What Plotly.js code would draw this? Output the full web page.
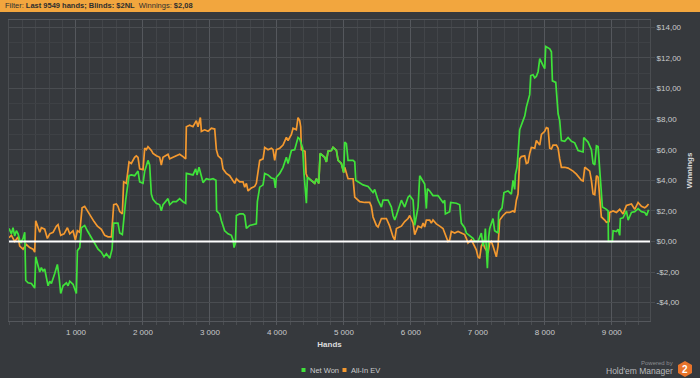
<!DOCTYPE html>
<html>
<head>
<meta charset="utf-8">
<script src="https://cdn.plot.ly/plotly-3.0.1.min.js"></script>
<style>
html,body{margin:0;padding:0;background:#36393d;}
#chart{width:700px;height:378px;}
</style>
</head>
<body>
<div id="chart"></div>
<script>
// ---- Data ----
const netWonHands = [0,36,60,85,110,135,160,175,210,235,250,284,334,384,399,434,459,483,508,533,558,583,608,633,683,722,747,772,807,857,882,907,956,981,1006,1021,1056,1081,1130,1170,1220,1270,1330,1379,1419,1454,1504,1539,1563,1627,1653,1692,1712,1742,1792,1826,1876,1926,1951,2001,2026,2075,2100,2125,2150,2200,2250,2274,2299,2374,2399,2449,2498,2548,2598,2638,2648,2697,2747,2787,2807,2837,2872,2897,2946,2996,3046,3090,3100,3146,3171,3220,3270,3320,3345,3360,3380,3395,3444,3494,3519,3544,3594,3643,3693,3708,3743,3793,3818,3867,3917,3957,3977,3992,4042,4091,4141,4166,4216,4265,4315,4340,4385,4405,4440,4455,4515,4564,4589,4625,4645,4714,4739,4763,4813,4838,4888,4913,4962,4997,5012,5037,5062,5137,5162,5177,5211,5286,5361,5410,5435,5460,5510,5560,5585,5659,5709,5734,5759,5784,5834,5858,5908,5958,5983,6033,6057,6107,6132,6182,6206,6231,6246,6281,6330,6405,6480,6505,6515,6579,6594,6679,6729,6753,6803,6828,6878,6928,6953,7002,7052,7077,7102,7112,7127,7142,7162,7177,7226,7251,7301,7311,7361,7390,7450,7500,7525,7550,7560,7585,7600,7624,7674,7700,7725,7750,7774,7789,7824,7849,7874,7899,7924,7974,7998,8013,8073,8098,8113,8163,8198,8222,8247,8297,8347,8397,8446,8496,8546,8571,8581,8645,8695,8720,8745,8770,8795,8820,8844,8859,8919,8944,8949,9009,9019,9069,9093,9118,9128,9168,9218,9243,9293,9342,9392,9442,9491,9520,9549];
const netWonValues = [0.85,0.5,0.9,0.35,0.7,0.5,0.1,-0.1,0.2,0.6,-2.55,-2.7,-2.75,-3.05,-1.0,-1.6,-2.0,-1.7,-1.95,-1.8,-2.3,-2.9,-2.6,-2.75,-2.1,-1.5,-2.3,-3.4,-2.9,-2.7,-2.9,-2.6,-2.8,-3.1,-3.4,-0.6,-0.4,0.9,1.05,0.7,0.3,0.0,-0.5,-0.7,-1.0,-0.8,-1.1,-0.5,1.2,1.2,0.55,0.45,1.6,2.7,4.3,4.35,4.3,4.6,3.9,3.8,4.6,5.3,5.0,3.1,2.75,2.5,2.4,2.0,2.4,2.8,2.4,2.6,2.6,2.8,2.6,2.5,4.45,4.4,4.35,4.75,4.35,4.85,4.2,3.85,4.1,4.05,4.1,4.0,2.0,1.8,1.35,0.7,0.5,0.4,0.1,-0.4,-0.1,1.7,1.8,1.8,1.7,0.85,1.05,1.1,1.15,2.6,3.55,3.7,4.45,4.35,4.15,4.1,3.5,4.2,4.45,4.85,5.5,5.1,5.95,6.0,6.8,6.7,6.1,4.4,2.5,4.2,4.0,3.8,4.1,3.8,5.75,5.5,5.2,5.9,5.95,6.15,5.95,5.3,5.1,4.5,6.5,6.4,5.3,5.3,5.2,4.0,3.9,3.7,3.6,3.35,3.2,3.4,2.7,2.25,2.7,2.7,2.25,1.7,1.4,1.7,2.5,2.7,2.25,2.9,3.0,2.7,1.05,2.25,4.3,3.9,3.75,2.15,3.45,3.3,3.0,3.0,2.55,2.7,1.8,1.95,2.55,2.5,2.4,1.2,0.9,0.55,0.35,0.2,0.0,0.0,0.55,-0.3,0.2,0.85,-0.5,-1.75,0.3,0.85,1.5,0.7,0.55,1.9,2.2,3.2,3.3,3.1,4.0,3.4,4.35,4.85,5.75,7.3,7.9,8.2,8.8,9.3,9.6,10.85,10.9,10.7,10.8,11.1,11.95,11.5,11.3,12.75,12.6,12.4,10.5,10.4,8.35,7.9,6.6,6.55,6.8,6.55,6.45,5.95,5.85,5.85,6.8,6.5,6.0,5.1,5.0,6.25,6.2,4.45,3.5,2.25,2.1,2.0,0.0,0.0,0.7,0.65,0.8,0.4,1.5,1.55,2.0,1.4,1.9,1.95,2.15,1.95,1.9,1.7,2.08];

const allInEvHands = [0,36,85,135,160,210,260,309,359,384,399,434,459,483,533,573,608,658,707,732,772,822,872,907,956,991,1021,1056,1091,1130,1170,1220,1270,1320,1379,1429,1479,1529,1563,1603,1627,1653,1692,1712,1752,1792,1826,1876,1901,1926,1951,2001,2026,2050,2075,2125,2150,2200,2250,2274,2299,2374,2399,2449,2498,2548,2598,2638,2648,2697,2747,2797,2822,2857,2872,2921,2971,3021,3071,3096,3121,3171,3195,3245,3295,3345,3370,3395,3444,3494,3519,3544,3569,3618,3668,3693,3718,3743,3793,3818,3867,3917,3942,3967,3992,4042,4091,4116,4141,4166,4216,4241,4290,4315,4340,4355,4365,4420,4435,4455,4515,4564,4589,4625,4645,4714,4739,4763,4813,4838,4888,4913,4962,4997,5012,5062,5137,5162,5236,5311,5385,5410,5435,5485,5510,5560,5634,5684,5734,5759,5784,5858,5908,5958,5983,6033,6057,6107,6157,6182,6206,6231,6281,6305,6330,6380,6430,6480,6505,6554,6579,6604,6654,6704,6753,6803,6828,6853,6903,6953,6977,7002,7027,7052,7077,7102,7152,7177,7201,7226,7276,7301,7326,7376,7425,7475,7525,7550,7575,7600,7624,7649,7699,7724,7749,7774,7799,7849,7874,7924,7949,7998,8023,8048,8073,8098,8123,8173,8198,8222,8247,8297,8347,8421,8471,8546,8571,8596,8670,8695,8720,8745,8770,8795,8820,8844,8894,8919,8959,8969,9019,9069,9118,9168,9218,9293,9342,9392,9442,9491,9520,9549];
const allInEvValues = [0.25,0.4,0.0,0.3,-0.3,-0.5,-0.2,-0.4,-0.5,-0.7,1.35,0.9,0.6,0.9,0.8,0.2,0.5,0.6,1.0,1.1,0.4,0.5,0.9,0.5,0.7,0.1,0.7,0.6,2.2,2.3,2.0,1.6,1.3,1.0,0.8,0.4,0.3,0.3,2.4,2.45,2.3,1.95,1.8,3.9,3.8,5.2,5.1,5.5,5.6,5.5,4.75,4.7,6.1,6.0,6.2,5.95,5.75,5.6,5.5,5.0,5.5,5.7,5.4,5.5,5.6,5.7,5.55,5.4,7.5,7.6,7.5,7.9,7.5,8.1,7.2,7.3,7.2,7.4,7.35,6.0,5.6,5.4,4.75,4.45,4.3,4.0,3.8,4.1,3.9,3.9,3.55,3.8,3.3,3.5,3.6,3.8,4.45,5.3,5.4,6.15,6.0,6.1,6.0,5.3,6.0,6.1,6.3,6.6,6.8,6.6,7.0,7.4,7.3,8.1,7.9,7.5,6.0,5.9,4.45,4.2,4.0,3.8,4.1,3.8,5.75,5.5,5.2,5.9,5.95,6.15,5.95,5.3,5.1,4.5,4.85,4.1,4.1,2.9,2.6,2.55,2.55,2.3,1.6,1.05,0.95,1.5,1.5,1.0,0.3,0.1,0.85,1.0,1.3,1.5,1.7,1.2,0.45,1.0,0.9,1.2,0.95,1.4,1.4,1.2,1.4,1.15,1.0,0.85,0.55,0.0,0.1,0.65,0.55,0.65,0.55,0.45,0.2,-0.1,0.1,-0.3,-0.55,-1.0,-1.1,-0.3,-0.1,-0.4,-0.75,-0.1,0.0,-0.3,-1.0,-0.3,1.4,1.7,1.9,1.9,2.0,1.9,2.7,3.1,5.4,5.55,5.6,5.1,5.15,5.75,6.15,6.1,6.6,6.3,7.0,7.2,7.45,7.4,6.1,6.05,6.3,6.3,6.1,5.4,4.85,4.85,4.8,4.6,4.4,4.0,3.95,4.85,4.6,4.0,3.1,3.05,4.3,4.2,3.1,1.6,1.4,1.25,1.3,1.9,2.0,1.9,2.1,1.8,2.35,2.45,2.1,2.55,2.3,2.2,2.3,2.45];

const seriesNames = ['Net Won', 'All-In EV'];
const xTickValues = [1000,2000,3000,4000,5000,6000,7000,8000,9000];
const xTickLabels = ['1 000','2 000','3 000','4 000','5 000','6 000','7 000','8 000','9 000'];
const yTickValues = [-4,-2,0,2,4,6,8,10,12,14];
const yTickLabels = ['-$4,00','-$2,00','$0,00','$2,00','$4,00','$6,00','$8,00','$10,00','$12,00','$14,00'];

// ---- Styling / geometry ----
const W = 700, H = 378;
const M = {l: 9, r: 50, t: 20, b: 57};
const plotW = W - M.l - M.r, plotH = H - M.t - M.b;
const px = x => (x - M.l) / plotW;          // pixel -> paper x
const py = y => (H - M.b - y) / plotH;      // pixel -> paper y
const GREEN = '#3fe23a', ORANGE = '#f4992f', BG = '#36393d';
const FONT = 'Liberation Sans, Arial, sans-serif';

const traces = [
  {x: allInEvHands, y: allInEvValues, name: seriesNames[1], type: 'scatter', mode: 'lines',
   line: {color: ORANGE, width: 1.7}, showlegend: false, hoverinfo: 'skip'},
  {x: netWonHands, y: netWonValues, name: seriesNames[0], type: 'scatter', mode: 'lines',
   line: {color: GREEN, width: 1.7}, showlegend: false, hoverinfo: 'skip'}
];

const hex = 'M 0 8 L 7 4 L 7 -4 L 0 -8 L -7 -4 L -7 4 Z';

const layout = {
  width: W, height: H,
  margin: M,
  paper_bgcolor: BG, plot_bgcolor: BG,
  font: {family: FONT, size: 8, color: '#c9cacc'},
  showlegend: false,
  xaxis: {
    range: [0, 9570],
    tickmode: 'array', tickvals: xTickValues, ticktext: xTickLabels,
    showgrid: true, gridcolor: '#55585d', gridwidth: 1,
    ticks: 'outside', ticklen: 3, tickcolor: '#55585d',
    minor: {tickmode: 'linear', tick0: 0, dtick: 200, showgrid: true, gridcolor: '#424549',
            ticks: 'outside', ticklen: 3, tickcolor: '#4a4d51'},
    showline: true, linecolor: '#55585d', mirror: true,
    zeroline: false,
    tickfont: {size: 8, color: '#c9cacc'},
    title: {text: '<b>Hands</b>', font: {size: 8, color: '#dcdcdc'}, standoff: 5}
  },
  yaxis: {
    side: 'right',
    range: [-5.2, 14.48],
    tickmode: 'array', tickvals: yTickValues, ticktext: yTickLabels,
    showgrid: true, gridcolor: '#4a4d51', gridwidth: 1,
    ticks: 'outside', ticklen: 4, tickcolor: '#4a4d51',
    minor: {tickmode: 'linear', tick0: 0, dtick: 1, showgrid: true, gridcolor: '#3e4145'},
    showline: true, linecolor: '#4a4d51', mirror: true,
    zeroline: false,
    tickfont: {size: 8, color: '#c9cacc'},
    title: {text: '<b>Winnings</b>', font: {size: 8, color: '#dcdcdc'}, standoff: 5}
  },
  shapes: [
    // header bar
    {type: 'rect', xref: 'paper', yref: 'paper', x0: px(0), x1: px(W), y0: py(12), y1: py(0),
     fillcolor: '#f2a63e', line: {width: 0}, layer: 'above'},
    // zero line
    {type: 'line', xref: 'paper', yref: 'y', x0: 0, x1: 1, y0: 0, y1: 0,
     line: {color: '#ffffff', width: 2}, layer: 'above'},
    // legend swatches
    {type: 'rect', xref: 'paper', yref: 'paper', xsizemode: 'pixel', ysizemode: 'pixel',
     xanchor: px(303.5), yanchor: py(370), x0: -2, x1: 2, y0: -2, y1: 2,
     fillcolor: GREEN, line: {width: 0}},
    {type: 'rect', xref: 'paper', yref: 'paper', xsizemode: 'pixel', ysizemode: 'pixel',
     xanchor: px(344.5), yanchor: py(370), x0: -2, x1: 2, y0: -2, y1: 2,
     fillcolor: ORANGE, line: {width: 0}},
    // logo hexagon
    {type: 'path', xref: 'paper', yref: 'paper', xsizemode: 'pixel', ysizemode: 'pixel',
     xanchor: px(685), yanchor: py(369), path: hex, fillcolor: '#e8742b', line: {width: 0}}
  ],
  annotations: [
    {xref: 'paper', yref: 'paper', x: px(3), y: py(6), xanchor: 'left', yanchor: 'middle', showarrow: false,
     text: 'Filter: <b>Last 9549 hands; Blinds: $2NL</b>  Winnings: <b>$2,08</b>',
     font: {size: 7.5, color: '#2e2e2e', family: FONT}},
    {xref: 'paper', yref: 'paper', x: px(307.5), y: py(370), xanchor: 'left', yanchor: 'middle', showarrow: false,
     text: seriesNames[0], font: {size: 7.5, color: '#c9cacc'}},
    {xref: 'paper', yref: 'paper', x: px(348.5), y: py(370), xanchor: 'left', yanchor: 'middle', showarrow: false,
     text: seriesNames[1], font: {size: 7.5, color: '#c9cacc'}},
    {xref: 'paper', yref: 'paper', x: px(675), y: py(363), xanchor: 'right', yanchor: 'middle', showarrow: false,
     text: 'Powered by', font: {size: 6, color: '#8c8d90'}},
    {xref: 'paper', yref: 'paper', x: px(675), y: py(371), xanchor: 'right', yanchor: 'middle', showarrow: false,
     text: "Hold'em Manager", font: {size: 8.5, color: '#b9babc'}},
    {xref: 'paper', yref: 'paper', x: px(685), y: py(369), xanchor: 'center', yanchor: 'middle', showarrow: false,
     text: '<b>2</b>', font: {size: 10, color: '#ffffff'}}
  ]
};

Plotly.newPlot('chart', traces, layout, {displayModeBar: false, staticPlot: true});
</script>
</body>
</html>
